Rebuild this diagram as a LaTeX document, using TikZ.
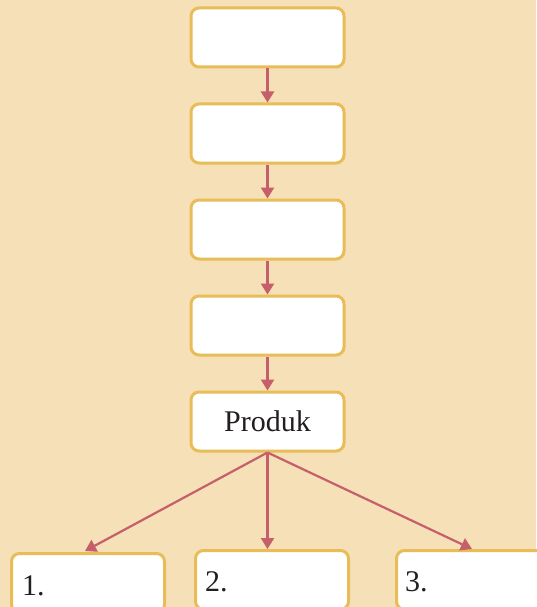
\documentclass[tikz,border=0pt]{standalone}
\usepackage{fontspec}
\setmainfont{Liberation Serif}
\usetikzlibrary{arrows.meta}
\definecolor{bg}{HTML}{F5E0B7}
\definecolor{bord}{HTML}{E8BD58}
\definecolor{arr}{HTML}{C5606A}
\definecolor{txt}{HTML}{231F20}
\tikzset{
  box/.style={draw=bord, line width=3pt, fill=white, rounded corners=8pt, minimum width=153pt, minimum height=59pt, inner sep=0pt, text=txt, font=\fontsize{30}{34}\selectfont},
  lbl/.style={anchor=base west, text=txt, font=\fontsize{30}{34}\selectfont, inner sep=0pt},
  conn/.style={draw=arr, line width=2.2pt, -{Triangle[width=13pt,length=11pt]}},
}
\begin{document}
\begin{tikzpicture}[x=1pt,y=-1pt]
\useasboundingbox (0,0) rectangle (536,607);
\fill[bg] (0,0) rectangle (536,607);
\node[box] (b1) at (267.5,37.5) {};
\node[box] (b2) at (267.5,133.5) {};
\node[box] (b3) at (267.5,229.5) {};
\node[box] (b4) at (267.5,325.5) {};
\node[box] (p) at (267.5,421.5) {Produk};
\node[box, anchor=north west] (o1) at (10,552) {};
\node[box, anchor=north west] (o2) at (194,549) {};
\node[box, anchor=north west] (o3) at (395,549) {};
\node[lbl] (t1) at (22,595) {1.};
\node[lbl] (t2) at (205,591) {2.};
\node[lbl] (t3) at (405,591) {3.};
\draw[conn] (b1.south) -- (b2.north);
\draw[conn] (b2.south) -- (b3.north);
\draw[conn] (b3.south) -- (b4.north);
\draw[conn] (b4.south) -- (p.north);
\coordinate (c1) at (85,551);
\coordinate (c2) at (267.5,549);
\coordinate (c3) at (472,549);
\draw[conn] (p.south) -- (c1);
\draw[conn] (p.south) -- (c2);
\draw[conn] (p.south) -- (c3);
\end{tikzpicture}
\end{document}
